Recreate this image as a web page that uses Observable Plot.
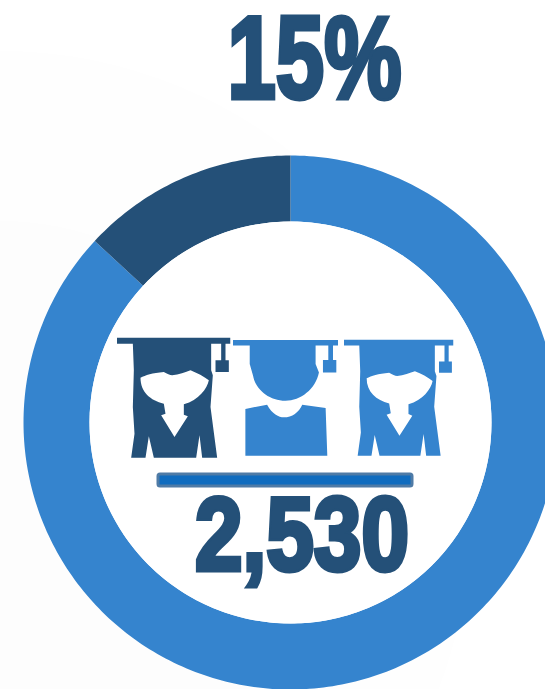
<!DOCTYPE html>
<html><head><meta charset="utf-8">
<script src="https://cdn.jsdelivr.net/npm/d3@7"></script>
<script src="https://cdn.jsdelivr.net/npm/@observablehq/plot@0.6"></script>
<style>html,body{margin:0;padding:0;background:#fff;overflow:hidden}svg{display:block}</style>
</head><body><div id="chart"></div>
<script>
// Data
const sliceNames = ["Other", "Share"];
const sliceValues = [86.9, 13.1];
const headline = "15%";
const count = "2,530";
const iconKinds = ["a", "b", "a"];

// Styles and layout
const dark = "#245078", blue = "#3584ce";
const cx = 290, cy = 422, rOuter = 267, rInner = 201;
const font = "'Liberation Sans',sans-serif";

const pie = d3.pie().sort(null)(sliceValues);
const ringPoints = pie.flatMap((p, i) => {
  const n = Math.ceil((p.endAngle - p.startAngle) * 180 / Math.PI);
  const at = d3.range(n + 1).map(k => p.startAngle + (p.endAngle - p.startAngle) * k / n);
  const pt = (a, r) => ({name: sliceNames[i], x: cx + r * Math.sin(a), y: cy - r * Math.cos(a)});
  return [...at.map(a => pt(a, rOuter)), ...at.slice().reverse().map(a => pt(a, rInner))];
});

const shapes = {
  a: {box: "48 50 342 366", d:
    "M48 52H390V70H332V150L337 165L330 260L350 412H305L297 345L287 412H160L145 348L135 412H92L102 340L97 260L100 150L97 70H48Z" +
    "M362 70H375V120H385V155H345V120H362Z" +
    "M120 172C135 165 155 158 190 155C200 160 208 165 215 165C235 163 255 155 270 150C290 158 310 168 325 180C320 205 295 240 250 252V283L262 288L222 350L182 285L195 280L190 250C150 240 120 215 120 172Z"},
  b: {box: "398 56 314 352", d:
    "M398 57H712V74H645V130L655 155C645 205 600 240 555 240C505 240 465 205 458 165L448 130V74H398Z" +
    "M683 74H697V118H707V155H667V118H683Z" +
    "M435 265L500 252C515 280 535 290 550 290C575 290 595 275 605 252L675 262L680 406H435Z"}
};
const src = (kind, color) => "data:image/svg+xml," + encodeURIComponent(
  `<svg xmlns="http://www.w3.org/2000/svg" viewBox="${shapes[kind].box}" preserveAspectRatio="none"><path fill="${color}" fill-rule="evenodd" d="${shapes[kind].d}"/></svg>`);
const iconX = [173, 285, 398], iconY = [397.5, 397.5, 397.5], iconW = [114, 105, 110], iconH = [122, 117, 118];
const icons = iconKinds.map((k, i) => ({src: src(k, i === 0 ? dark : blue), x: iconX[i], y: iconY[i], w: iconW[i], h: iconH[i]}));

const chart = Plot.plot({
  width: 545, height: 689, margin: 0,
  x: {domain: [0, 545], range: [0, 545], axis: null},
  y: {domain: [0, 689], range: [0, 689], axis: null},
  style: {background: "#fff"},
  marks: [
    Plot.dot([{}], {x: () => 0, y: () => 520, r: 470, fill: "#000", fillOpacity: 0.004, stroke: null}),
    Plot.dot([{}], {x: () => 0, y: () => 520, r: 300, fill: "#000", fillOpacity: 0.005, stroke: null}),
    Plot.line(ringPoints, {x: "x", y: "y", z: "name", fill: d => d.name === "Share" ? dark : blue, stroke: null, curve: "linear-closed"}),
    Plot.dot([{}], {x: () => cx, y: () => cy, r: rInner, fill: "#fff", stroke: null}),
    Plot.image(icons, {x: "x", y: "y", width: "w", height: "h", src: "src", preserveAspectRatio: "none"}),
    Plot.rect([{}], {x1: () => 158, x2: () => 412, y1: () => 474, y2: () => 486, fill: "#0f6cbf", stroke: "#4f7ba6", strokeWidth: 3, rx: 2}),
    Plot.text([headline], {x: () => 314, y: () => 60, text: d => d, fontFamily: font, fontWeight: "bold", fontSize: 117, fill: dark, stroke: dark, strokeWidth: 5, strokeLinejoin: "miter", textAnchor: "middle", className: "t-head"}),
    Plot.text([count], {x: () => 301.5, y: () => 536.5, text: d => d, fontFamily: font, fontWeight: "bold", fontSize: 103, fill: dark, stroke: dark, strokeWidth: 5, strokeLinejoin: "miter", textAnchor: "middle", className: "t-count"})
  ]
});
// Condense the installed bold face to the reference's heavy, narrow lettering
d3.select(chart).selectAll(".t-head text").attr("textLength", 174).attr("lengthAdjust", "spacingAndGlyphs");
d3.select(chart).selectAll(".t-count text").attr("textLength", 214).attr("lengthAdjust", "spacingAndGlyphs");
document.getElementById("chart").append(chart);
</script></body></html>
